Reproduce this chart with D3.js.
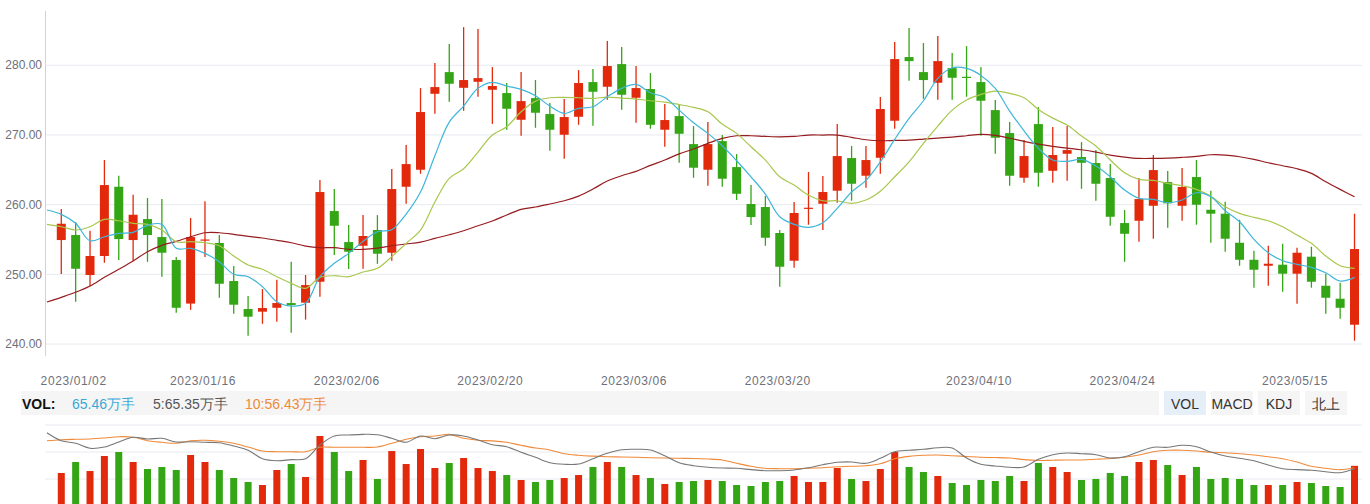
<!DOCTYPE html>
<html>
<head>
<meta charset="utf-8">
<script src="https://cdn.jsdelivr.net/npm/d3@7"></script>
<style>
  body { margin: 0; background: #fff; }
  svg { display: block; font-family: "Liberation Sans", Arial, sans-serif; }
</style>
</head>
<body>
<script>
// trading days shown (first MA point sits one day before the first candle)
const prevDate = "2022-12-29";
const dates = [
  "2022-12-30",
  "2023-01-03","2023-01-04","2023-01-05","2023-01-06",
  "2023-01-09","2023-01-10","2023-01-11","2023-01-12","2023-01-13",
  "2023-01-16","2023-01-17","2023-01-18","2023-01-19","2023-01-20",
  "2023-01-30","2023-01-31","2023-02-01","2023-02-02","2023-02-03",
  "2023-02-06","2023-02-07","2023-02-08","2023-02-09","2023-02-10",
  "2023-02-13","2023-02-14","2023-02-15","2023-02-16","2023-02-17",
  "2023-02-20","2023-02-21","2023-02-22","2023-02-23","2023-02-24",
  "2023-02-27","2023-02-28","2023-03-01","2023-03-02","2023-03-03",
  "2023-03-06","2023-03-07","2023-03-08","2023-03-09","2023-03-10",
  "2023-03-13","2023-03-14","2023-03-15","2023-03-16","2023-03-17",
  "2023-03-20","2023-03-21","2023-03-22","2023-03-23","2023-03-24",
  "2023-03-27","2023-03-28","2023-03-29","2023-03-30","2023-03-31",
  "2023-04-03","2023-04-04","2023-04-06","2023-04-07",
  "2023-04-10","2023-04-11","2023-04-12","2023-04-13","2023-04-14",
  "2023-04-17","2023-04-18","2023-04-19","2023-04-20","2023-04-21",
  "2023-04-24","2023-04-25","2023-04-26","2023-04-27","2023-04-28",
  "2023-05-04","2023-05-05",
  "2023-05-08","2023-05-09","2023-05-10","2023-05-11","2023-05-12",
  "2023-05-15","2023-05-16","2023-05-17","2023-05-18","2023-05-19"
];

const open = [254.92,255.64,249.90,252.63,262.57,254.92,257.93,255.35,252.05,245.80,
  254.90,254.50,249.04,245.02,244.64,245.20,245.88,245.93,248.94,259.08,
  254.63,254.10,256.36,253.10,262.57,265.01,275.91,279.02,276.77,277.63,
  276.49,276.01,272.18,275.29,273.00,270.03,272.61,277.59,276.92,280.17,
  275.34,276.59,270.75,272.71,268.69,265.01,269.12,265.39,260.09,259.66,
  255.93,251.95,259.41,260.13,262.00,266.69,264.15,266.73,272.04,281.18,
  279.02,277.49,279.60,278.35,277.59,273.57,270.27,263.86,271.56,264.86,
  267.30,266.83,265.97,263.82,257.36,257.69,259.84,263.24,259.84,263.96,
  259.27,258.70,254.53,252.09,251.23,251.38,250.09,252.53,248.36,246.50,242.77];
const close = [257.26,250.80,252.63,262.81,255.06,258.55,255.64,253.10,245.20,255.35,
  255.00,248.65,245.64,243.92,245.16,245.88,245.60,248.46,261.81,256.97,
  253.24,255.50,252.96,262.24,265.82,273.29,276.87,277.35,277.88,278.16,
  277.02,273.76,274.86,273.19,270.75,272.57,277.45,276.20,279.89,275.77,
  276.73,271.46,272.14,270.17,265.30,268.69,263.72,261.56,258.22,255.25,
  251.09,258.80,259.56,261.81,266.97,263.00,266.40,273.72,280.89,280.60,
  277.88,280.60,278.21,278.20,274.91,269.60,264.15,266.97,264.58,267.12,
  267.83,266.01,263.00,258.26,255.82,260.80,264.96,260.19,262.53,259.99,
  258.70,255.11,252.09,250.66,251.52,250.09,253.10,248.94,246.64,245.20,253.63];
const high = [259.37,257.50,256.26,266.40,264.15,261.42,260.95,260.80,252.50,258.08,
  260.50,255.64,251.19,246.89,247.89,249.23,251.80,249.90,263.53,262.24,
  257.07,258.50,258.50,265.10,268.55,276.73,280.32,283.04,285.48,285.19,
  279.74,277.45,279.02,277.88,274.58,275.15,279.31,279.45,283.47,282.61,
  279.89,278.88,274.43,274.29,271.28,271.85,269.99,267.26,262.81,261.23,
  256.36,260.37,264.68,264.10,271.56,268.41,268.41,275.44,283.33,285.34,
  283.19,284.19,281.75,282.75,279.74,275.00,271.85,269.27,274.00,271.13,
  271.28,268.98,267.83,265.82,259.22,263.82,267.12,264.82,265.25,266.40,
  262.00,260.42,257.83,253.39,254.10,254.39,253.82,253.96,250.09,248.79,258.70];
const low = [250.04,246.07,248.30,251.66,252.05,251.90,251.80,249.66,244.50,244.90,
  252.50,246.64,244.35,241.20,242.90,243.20,241.60,243.50,246.79,252.77,
  250.76,250.80,251.50,251.95,260.13,264.43,273.04,274.76,273.47,275.48,
  271.60,270.75,269.89,271.03,267.73,266.59,271.46,271.32,275.05,273.61,
  271.75,270.89,268.31,266.01,263.86,262.71,262.57,260.66,257.07,254.10,
  248.22,250.95,257.12,256.36,260.27,260.56,262.43,264.43,270.89,277.78,
  275.19,275.05,275.05,275.48,269.89,267.30,262.71,263.14,262.57,263.14,
  263.43,262.28,260.56,256.97,251.80,254.68,255.11,256.69,257.69,257.12,
  254.53,253.24,251.23,248.08,248.36,247.50,245.78,248.08,244.35,243.63,240.47];

// moving averages: prevDate first, then one value per date
const ma5 = [259.23,258.61,257.32,254.82,255.39,255.88,256.03,257.03,257.17,253.73,
  253.73,253.01,251.81,250.00,249.66,248.22,246.07,245.45,245.84,249.66,
  251.58,253.01,254.73,256.11,256.40,258.65,261.81,267.02,271.85,274.15,
  276.69,277.55,277.02,276.54,275.62,274.15,273.10,273.82,274.05,275.48,
  276.69,277.26,276.05,275.39,273.57,271.75,270.23,268.45,266.30,264.00,
  261.52,258.26,257.17,256.74,257.40,259.47,261.81,263.49,266.15,269.37,
  272.38,274.91,278.12,279.64,279.55,278.55,276.69,273.43,270.60,268.08,
  266.40,266.21,266.50,265.54,264.00,262.09,260.90,260.76,260.27,260.66,
  261.71,261.13,259.12,257.55,255.02,253.10,251.95,251.43,251.00,250.23,
  249.04,249.57];
const ma10 = [257.17,256.83,256.36,256.83,257.89,257.69,257.32,257.17,256.36,254.68,
  254.68,254.53,254.10,252.63,251.33,250.72,249.66,248.71,247.99,249.57,
  249.80,249.66,250.33,250.86,252.53,254.45,256.36,260.37,263.77,265.15,
  267.55,269.99,271.18,273.33,274.86,275.34,275.39,275.34,275.25,275.44,
  275.29,275.15,274.91,274.72,274.36,273.96,273.33,271.56,270.23,268.31,
  266.40,264.00,262.81,261.38,260.56,260.56,260.19,260.66,261.92,264.00,
  266.15,268.80,271.28,273.57,275.01,275.82,276.30,275.97,275.34,273.67,
  272.42,271.42,269.84,268.41,266.40,264.58,263.63,263.49,263.06,262.71,
  262.19,261.19,259.70,258.75,258.18,257.69,256.83,255.64,254.45,252.63,
  251.23,250.86];
const ma30 = [246.03,246.70,247.42,248.32,249.57,250.72,251.91,253.24,254.16,254.73,
  255.39,255.97,255.97,255.74,255.45,255.21,254.88,254.53,254.06,253.82,
  253.82,253.59,253.59,253.77,254.10,254.35,254.63,255.16,255.68,256.26,
  256.97,257.65,258.51,259.33,259.66,260.09,260.56,261.23,262.24,263.39,
  264.15,264.78,265.64,266.40,267.29,267.98,268.80,269.51,269.89,269.89,
  269.80,269.74,269.80,269.99,269.99,269.99,269.66,269.31,269.17,269.22,
  269.27,269.41,269.56,269.70,269.89,270.09,269.94,269.53,269.08,268.69,
  268.36,268.12,267.88,267.55,267.12,266.83,266.64,266.64,266.69,266.79,
  266.93,267.16,267.12,266.87,266.50,266.01,265.58,265.15,264.49,263.29,
  262.19,261.13];

// volume (万手)
const volume = [53.8,71.7,57.0,81.5,88.0,71.7,60.3,63.6,58.7,83.1,
  71.7,58.7,45.6,39.1,34.2,58.7,68.4,47.3,114.1,88.0,
  57.0,75.0,44.0,89.6,68.4,92.9,61.9,70.1,78.2,61.9,
  57.0,50.5,42.4,39.1,42.4,45.6,50.5,63.6,71.7,63.6,
  50.5,45.6,35.9,39.1,40.7,42.4,40.7,34.2,32.6,39.1,
  40.7,48.9,39.1,39.1,61.9,44.0,40.7,60.3,88.0,63.6,
  55.4,48.9,37.5,34.2,42.4,40.7,48.9,40.7,70.1,63.6,
  55.4,42.4,44.0,53.8,48.9,71.7,75.0,66.8,50.5,63.6,
  44.0,45.6,44.0,34.2,34.2,34.2,39.1,37.5,32.6,31.0,65.46];
const volMa5 = [119.5,106.4,102.2,94.0,96.1,104.3,112.0,109.2,110.3,104.3,
  104.8,103.8,103.2,97.8,90.8,77.1,73.8,75.5,77.1,99.4,
  114.1,115.7,116.8,116.2,110.3,103.8,114.1,109.7,115.7,114.1,
  107.6,99.9,96.6,87.5,79.4,70.6,68.0,68.4,77.1,85.9,
  91.7,92.4,91.3,82.0,70.6,65.7,63.1,61.9,61.4,59.2,
  57.5,57.5,58.7,62.4,67.3,71.2,71.7,69.6,77.7,88.5,
  90.8,92.4,95.0,94.5,78.2,68.0,65.2,63.1,63.6,76.1,
  83.6,86.4,85.2,83.6,78.2,80.3,88.5,95.7,95.7,98.9,
  96.6,88.0,81.5,77.7,73.8,66.8,60.8,59.2,58.2,55.9,
  54.3,60.8];
const volMa10 = [106.4,108.0,108.7,109.2,110.8,112.9,112.0,106.4,103.8,102.2,
  106.4,107.1,105.4,102.2,96.1,89.6,88.5,88.5,88.5,95.7,
  95.7,95.7,95.7,96.1,102.2,108.7,112.9,114.1,116.8,110.3,
  107.1,106.2,103.8,98.9,94.5,91.3,85.2,82.6,81.2,80.3,
  79.9,79.4,78.7,78.2,77.7,77.4,76.6,75.0,69.6,64.7,
  61.4,60.8,60.8,61.4,62.4,64.0,64.7,65.7,68.9,77.1,
  80.9,82.6,83.1,82.0,80.7,79.4,79.0,78.2,75.5,74.1,
  74.6,75.0,75.0,76.1,77.4,79.4,83.1,88.5,90.8,90.9,
  89.6,87.5,86.9,85.2,83.1,80.3,77.1,71.7,64.7,61.4,
  59.2,62.4];

const priceTicks = [240, 250, 260, 270, 280];
const volTicks = [44, 88, 132];
const tickDates = ["2023-01-03","2023-01-16","2023-02-06","2023-02-20","2023-03-06",
  "2023-03-20","2023-04-10","2023-04-24","2023-05-15"];
const tickLabels = ["2023/01/02","2023/01/16","2023/02/06","2023/02/20","2023/03/06",
  "2023/03/20","2023/04/10","2023/04/24","2023/05/15"];
const volLegend = [
  {text: "65.46万手", color: "#3aa8d6"},
  {text: "5:65.35万手", color: "#555"},
  {text: "10:56.43万手", color: "#ee8a3c"}
];
const tabs = ["VOL", "MACD", "KDJ", "北上"];

const W = 1370, H = 504;
const up = "#e2290c", down = "#34a615";

const svg = d3.select("body").append("svg")
    .attr("width", W)
    .attr("height", H)
    .attr("viewBox", [0, 0, W, H]);

const allDates = [prevDate, ...dates];
const x = d3.scaleBand().domain(allDates).range([39.73, 1361.7]);
const step = x.step();
const cx = d => x(d) + step / 2;

const y = d3.scaleLinear().domain([238.28, 287.79]).range([356, 11]);
const yVol = d3.scaleLinear().domain([0, 132]).range([506, 425]);

// price grid + axis
svg.append("g")
  .selectAll("line")
  .data(priceTicks)
  .join("line")
    .attr("x1", 45).attr("x2", 1362)
    .attr("y1", d => y(d)).attr("y2", d => y(d))
    .attr("stroke", "#e7eaef");

svg.append("line")
    .attr("x1", 45.5).attr("x2", 45.5)
    .attr("y1", 11).attr("y2", 356)
    .attr("stroke", "#ccd3dd");

svg.append("g")
    .attr("fill", "#6e7079")
    .attr("font-size", 12)
    .attr("text-anchor", "end")
  .selectAll("text")
  .data(priceTicks)
  .join("text")
    .attr("x", 42)
    .attr("y", d => y(d))
    .attr("dy", "0.35em")
    .text(d => d.toFixed(2));

svg.append("g")
    .attr("fill", "#6e7079")
    .attr("font-size", 12)
    .attr("letter-spacing", "0.6px")
    .attr("text-anchor", "middle")
  .selectAll("text")
  .data(tickDates)
  .join("text")
    .attr("x", d => cx(d) - 2)
    .attr("y", 385)
    .text((d, i) => tickLabels[i]);

// candles
const candles = svg.append("g")
  .selectAll("g")
  .data(dates)
  .join("g")
    .attr("fill", (d, i) => close[i] >= open[i] ? up : down)
    .attr("stroke", (d, i) => close[i] >= open[i] ? up : down);

candles.append("line")
    .attr("x1", d => cx(d)).attr("x2", d => cx(d))
    .attr("y1", (d, i) => y(high[i]))
    .attr("y2", (d, i) => y(low[i]))
    .attr("stroke-width", 1.3);

candles.append("rect")
    .attr("stroke", "none")
    .attr("x", d => cx(d) - 4.5)
    .attr("width", 9)
    .attr("y", (d, i) => y(Math.max(open[i], close[i])))
    .attr("height", (d, i) => Math.max(1.2, Math.abs(y(open[i]) - y(close[i]))));

const priceLine = d3.line()
    .x((d, i) => cx(allDates[i]))
    .y(d => y(d))
    .curve(d3.curveCatmullRom);

[[ma30, "#961c1f"], [ma10, "#a9c74e"], [ma5, "#3fb6d9"]].forEach(([s, c]) => {
  svg.append("path")
      .attr("d", priceLine(s))
      .attr("fill", "none")
      .attr("stroke", c)
      .attr("stroke-width", 1.2);
});

// VOL header
svg.append("rect")
    .attr("x", 21).attr("y", 391)
    .attr("width", 1138).attr("height", 24)
    .attr("fill", "#f5f5f5");

svg.append("text")
    .attr("x", 22).attr("y", 408.5)
    .attr("font-size", 14)
    .attr("font-weight", "bold")
    .attr("fill", "#111")
    .text("VOL:");

const legendX = [72, 153, 245];
svg.append("g")
    .attr("font-size", 14)
  .selectAll("text")
  .data(volLegend)
  .join("text")
    .attr("x", (d, i) => legendX[i])
    .attr("y", 408.5)
    .attr("fill", d => d.color)
    .text(d => d.text);

const tab = svg.append("g")
  .selectAll("g")
  .data(tabs)
  .join("g")
    .attr("transform", (d, i) => `translate(${1164 + i * 47},391)`);

tab.append("rect")
    .attr("width", 42).attr("height", 24)
    .attr("fill", (d, i) => i === 0 ? "#e6eef8" : "#f5f5f5");

tab.append("text")
    .attr("x", 21).attr("y", 17.5)
    .attr("text-anchor", "middle")
    .attr("font-size", 14)
    .attr("fill", "#333")
    .text(d => d);

// volume panel
svg.append("g")
  .selectAll("line")
  .data(volTicks)
  .join("line")
    .attr("x1", 45).attr("x2", 1362)
    .attr("y1", d => yVol(d)).attr("y2", d => yVol(d))
    .attr("stroke", "#e7eaef");

svg.append("g")
  .selectAll("rect")
  .data(dates)
  .join("rect")
    .attr("x", d => cx(d) - 3.5)
    .attr("width", 7)
    .attr("y", (d, i) => yVol(volume[i]))
    .attr("height", (d, i) => yVol(0) - yVol(volume[i]))
    .attr("fill", (d, i) => close[i] >= open[i] ? up : down);

const volLine = d3.line()
    .x((d, i) => cx(allDates[i]))
    .y(d => yVol(d))
    .curve(d3.curveCatmullRom);

[[volMa10, "#ef8a3a"], [volMa5, "#777"]].forEach(([s, c]) => {
  svg.append("path")
      .attr("d", volLine(s))
      .attr("fill", "none")
      .attr("stroke", c)
      .attr("stroke-width", 1.1);
});
</script>
</body>
</html>
